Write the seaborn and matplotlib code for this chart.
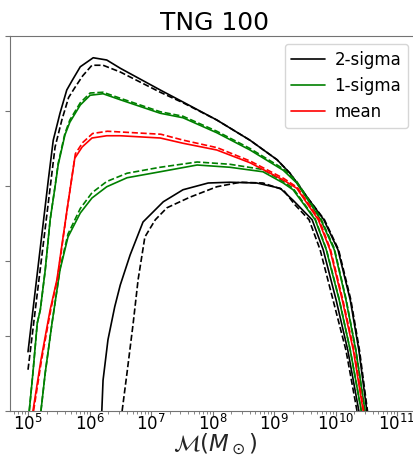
import numpy as np
import matplotlib
matplotlib.use("Agg")
import matplotlib.pyplot as plt
import seaborn as sns

# кривые: log10(M) и значение
two_hi_x = [5.0, 5.33, 5.41, 5.52, 5.63, 5.72, 5.85, 6.06, 6.28, 6.50, 7.15, 7.52, 8.07, 8.61, 9.05, 9.26, 9.54, 9.81, 10.04, 10.24, 10.38, 10.51]
two_hi_y = [0.79, 3.08, 3.61, 3.97, 4.28, 4.41, 4.59, 4.71, 4.68, 4.57, 4.28, 4.12, 3.88, 3.61, 3.35, 3.17, 2.85, 2.55, 2.15, 1.48, 0.81, 0.0]
two_hi_dx = [5.0, 5.36, 5.44, 5.55, 5.66, 5.76, 5.89, 6.04, 6.22, 6.50, 7.15, 7.52, 8.07, 8.61, 9.05, 9.26, 9.54, 9.82, 10.05, 10.25, 10.39, 10.52]
two_hi_dy = [0.55, 2.98, 3.52, 3.88, 4.18, 4.31, 4.47, 4.61, 4.61, 4.52, 4.25, 4.11, 3.88, 3.61, 3.35, 3.17, 2.85, 2.55, 2.15, 1.48, 0.81, 0.0]

two_lo_x = [6.20, 6.22, 6.30, 6.41, 6.50, 6.66, 6.87, 7.20, 7.52, 7.93, 8.28, 8.72, 9.10, 9.31, 9.62, 9.80, 10.01, 10.20, 10.38]
two_lo_y = [0.0, 0.41, 0.95, 1.39, 1.68, 2.08, 2.52, 2.79, 2.95, 3.04, 3.05, 3.04, 2.97, 2.81, 2.55, 2.15, 1.48, 0.81, 0.0]
two_lo_dx = [6.53, 6.61, 6.71, 6.79, 6.90, 7.07, 7.26, 7.63, 8.07, 8.45, 8.82, 9.15, 9.34, 9.57, 9.75, 9.96, 10.17, 10.35]
two_lo_dy = [0.0, 0.51, 1.17, 1.75, 2.32, 2.55, 2.71, 2.85, 2.99, 3.05, 3.04, 2.95, 2.75, 2.55, 2.15, 1.48, 0.81, 0.0]

one_hi_x = [5.02, 5.08, 5.15, 5.20, 5.28, 5.36, 5.44, 5.49, 5.60, 5.68, 5.85, 6.01, 6.22, 6.50, 7.15, 7.52, 8.07, 8.61, 9.15, 9.37, 9.76, 9.98, 10.17, 10.33, 10.48]
one_hi_y = [0.0, 0.51, 1.17, 1.35, 1.88, 2.55, 2.99, 3.28, 3.68, 3.85, 4.08, 4.21, 4.23, 4.15, 3.97, 3.91, 3.71, 3.48, 3.21, 3.04, 2.55, 2.15, 1.48, 0.81, 0.0]
one_hi_dy = [0.0, 0.51, 1.17, 1.35, 1.88, 2.55, 3.0, 3.3, 3.7, 3.88, 4.11, 4.24, 4.25, 4.17, 3.99, 3.93, 3.73, 3.50, 3.23, 3.06, 2.57, 2.17, 1.50, 0.82, 0.0]

mean_x = [5.08, 5.21, 5.36, 5.47, 5.57, 5.65, 5.72, 5.76, 5.88, 6.04, 6.28, 6.50, 7.15, 7.52, 8.07, 8.61, 9.15, 9.37, 9.72, 9.91, 10.11, 10.29, 10.45]
mean_y = [0.0, 0.68, 1.35, 1.75, 2.32, 2.77, 3.15, 3.37, 3.52, 3.64, 3.67, 3.67, 3.64, 3.57, 3.48, 3.31, 3.08, 2.97, 2.55, 2.15, 1.48, 0.81, 0.0]
mean_dx = [5.09, 5.22, 5.37, 5.48, 5.58, 5.66, 5.73, 5.77, 5.89, 6.05, 6.29, 6.51, 7.16, 7.53, 8.08, 8.62, 9.16, 9.38, 9.73, 9.92, 10.12, 10.30, 10.46]
mean_dy = [0.0, 0.68, 1.35, 1.77, 2.36, 2.82, 3.21, 3.43, 3.58, 3.70, 3.73, 3.72, 3.69, 3.61, 3.51, 3.33, 3.10, 2.98, 2.56, 2.15, 1.48, 0.81, 0.0]

one_lo_x = [5.21, 5.28, 5.39, 5.47, 5.52, 5.65, 5.85, 6.04, 6.28, 6.61, 7.15, 7.75, 8.28, 8.82, 9.15, 9.31, 9.67, 9.85, 10.06, 10.24, 10.42]
one_lo_y = [0.0, 0.51, 1.17, 1.61, 1.88, 2.32, 2.64, 2.84, 2.99, 3.11, 3.19, 3.28, 3.25, 3.19, 3.04, 2.95, 2.55, 2.15, 1.48, 0.81, 0.0]
one_lo_dy = [0.0, 0.51, 1.17, 1.61, 1.90, 2.36, 2.70, 2.91, 3.06, 3.17, 3.25, 3.32, 3.29, 3.22, 3.06, 2.97, 2.56, 2.16, 1.49, 0.81, 0.0]

sns.set_style("ticks")
plt.rcParams["axes.edgecolor"] = "0.45"
plt.rcParams["text.color"] = "black"
plt.rcParams["xtick.color"] = "0.45"
plt.rcParams["xtick.labelcolor"] = "black"
plt.rcParams["ytick.color"] = "0.45"
plt.rcParams["font.family"] = ["DejaVu Sans"]

fig = plt.figure(figsize=(4.13, 4.59), dpi=100)
ax = fig.add_axes([10 / 413, 48 / 459, 410 / 413, 375 / 459])

curves = [
    (two_hi_x, two_hi_y, "black", "-", "2-sigma"),
    (two_hi_dx, two_hi_dy, "black", "--", None),
    (two_lo_x, two_lo_y, "black", "-", None),
    (two_lo_dx, two_lo_dy, "black", "--", None),
    (one_hi_x, one_hi_y, "green", "-", "1-sigma"),
    (one_hi_x, one_hi_dy, "green", "--", None),
    (one_lo_x, one_lo_y, "green", "-", None),
    (one_lo_x, one_lo_dy, "green", "--", None),
    (mean_x, mean_y, "red", "-", "mean"),
    (mean_dx, mean_dy, "red", "--", None),
]
for lx, y, c, ls, lab in curves:
    sns.lineplot(x=10 ** np.array(lx), y=y, color=c, linestyle=ls, lw=1.2,
                 sort=False, estimator=None, label=lab, legend=False, ax=ax)

ax.set_xscale("log")
ax.set_xlim(10 ** 4.707, 10 ** 11.374)
ax.set_ylim(0, 5)
ax.set_yticks([0, 1, 2, 3, 4, 5])
ax.set_yticklabels([])
ax.tick_params(axis="both", labelsize=12, length=3.5, pad=-1.5)
ax.tick_params(axis="x", which="minor", length=2.5)
ax.set_xticks([10.0 ** k for k in range(5, 12)])
ax.set_xlabel(r"$\mathcal{M}(M_\odot)$", fontsize=16.5, labelpad=-1.5)
ax.set_title("TNG 100", fontsize=18, pad=4)

ax.legend(loc="upper right", bbox_to_anchor=(398 / 410, 367 / 375), fontsize=12,
          frameon=True, handlelength=2.0, handletextpad=0.6, borderaxespad=0)

fig.savefig("out.png", dpi=100)
